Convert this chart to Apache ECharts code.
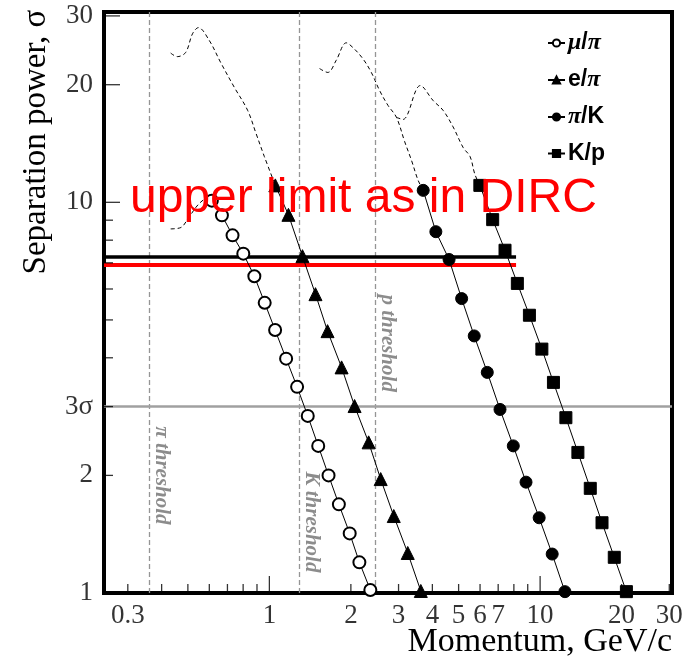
<!DOCTYPE html>
<html>
<head>
<meta charset="utf-8">
<script src="https://cdn.jsdelivr.net/npm/echarts@6/dist/echarts.min.js"></script>
<style>html,body{margin:0;padding:0;background:#fff;}#c{width:691px;height:660px;}</style>
</head>
<body>
<div id="c"></div>
<script>
// ---- data ----
const seriesNames = ['μ/π', 'e/π', 'π/K', 'K/p'];

const muPiX = [0.613, 0.668, 0.731, 0.801, 0.880, 0.961, 1.05, 1.153, 1.266, 1.386, 1.515, 1.654, 1.806, 1.98, 2.15, 2.36];
const muPiY = [10.1, 9.26, 8.23, 7.39, 6.47, 5.53, 4.71, 3.98, 3.37, 2.84, 2.38, 2.0, 1.686, 1.421, 1.198, 1.018];

const ePiX = [1.052, 1.176, 1.325, 1.48, 1.64, 1.848, 2.064, 2.326, 2.577, 2.88, 3.244, 3.625];
const ePiY = [11.05, 9.29, 7.28, 5.82, 4.68, 3.78, 3.01, 2.43, 1.957, 1.574, 1.266, 1.012];

const piKX = [3.70, 4.12, 4.61, 5.13, 5.71, 6.38, 7.11, 7.96, 8.87, 9.92, 11.08, 12.35];
const piKY = [10.73, 8.41, 7.14, 5.67, 4.55, 3.67, 2.95, 2.38, 1.922, 1.558, 1.258, 1.008];

const kpX = [5.99, 6.68, 7.42, 8.24, 9.13, 10.15, 11.2, 12.45, 13.79, 15.32, 16.93, 18.79, 20.83];
const kpY = [11.05, 9.03, 7.54, 6.20, 5.14, 4.21, 3.46, 2.81, 2.29, 1.853, 1.513, 1.234, 1.008];

// dashed extrapolation curves
const curveAX = [0.432, 0.457, 0.491, 0.520, 0.547, 0.599, 0.663, 0.742, 0.831, 0.893, 0.958, 1.052];
const curveAY = [24.1, 23.6, 24.2, 27.0, 28.0, 26.0, 22.7, 19.7, 17.2, 15.0, 13.1, 11.05];
const curveBX = [0.432, 0.471, 0.505, 0.550, 0.599, 0.613];
const curveBY = [8.55, 8.62, 9.17, 9.92, 10.3, 10.1];
const curveCX = [1.532, 1.644, 1.766, 1.923, 2.035, 2.216, 2.38, 2.556, 2.743, 2.947, 3.16, 3.35, 3.54, 3.70];
const curveCY = [22.0, 21.5, 23.1, 25.6, 24.9, 23.3, 21.5, 19.3, 17.7, 16.5, 14.3, 12.8, 11.4, 10.73];
const curveDX = [2.947, 3.115, 3.61, 4.03, 4.38, 4.77, 5.20, 5.51, 5.74, 5.99];
const curveDY = [16.5, 16.3, 19.9, 18.2, 17.2, 15.6, 13.8, 13.1, 11.8, 11.05];

// reference lines
const thresholdX = [0.362, 1.29, 2.47];
const thresholdNames = ['π threshold', 'K threshold', 'p threshold'];
const thresholdLabelY = [2.0, 1.52, 4.36];
const sigma3 = 3;
const dircBlackY = 7.25;
const dircRedY = 6.93;
const dircEndX = 8.15;
const annotation = 'upper limit as in DIRC';

// axes
const xMin = 0.245, xMax = 30.7, yMin = 1, yMax = 30.7;
const xTickLabels = [0.3, 1, 2, 3, 4, 5, 6, 7, 10, 20, 30];
const xMajorTicks = [1, 10];
const xMinorTicks = [0.3, 0.4, 0.5, 0.6, 0.7, 0.8, 0.9, 2, 3, 4, 5, 6, 7, 8, 9, 20, 30];
const yTickValues = [1, 2, 3, 10, 20, 30];
const yTickLabels = ['1', '2', '3σ', '10', '20', '30'];
const yMajorTicks = [10, 20, 30];
const yMinorTicks = [2, 3, 4, 5, 6, 7, 8, 9];
const xAxisName = 'Momentum, GeV/c';
const yAxisName = 'Separation power, σ';

// ---- chart ----
const serif = 'Liberation Serif';
const zip = (xs, ys) => xs.map((x, i) => [x, ys[i]]);

function markerSeries(name, xs, ys, symbol, size) {
  return {
    name, type: 'line', data: zip(xs, ys), symbol, symbolSize: size,
    showAllSymbol: true,
    lineStyle: { color: '#000', width: 1 },
    itemStyle: { color: '#000', borderColor: '#000', borderWidth: 1 },
    emphasis: { disabled: true }, z: 5, clip: false
  };
}
function dashed(xs, ys) {
  return {
    type: 'line', data: zip(xs, ys), symbol: 'none', smooth: 0.35,
    lineStyle: { color: '#000', width: 1, type: [4, 3] }, z: 4, silent: true
  };
}
function tickSeries(data, size, offset) {
  return {
    type: 'scatter', data, symbol: 'rect', symbolSize: size, symbolOffset: offset,
    itemStyle: { color: '#000' }, silent: true, clip: false, z: 6
  };
}
const frameAxis = { show: true, lineStyle: { color: '#000', width: 4 } };

const option = {
  animation: false,
  backgroundColor: '#fff',
  grid: { left: 104, right: 19, top: 12, bottom: 67, show: true, borderColor: '#000', borderWidth: 4, backgroundColor: 'transparent' },
  xAxis: [
    { type: 'log', logBase: 10, min: xMin, max: xMax, axisLine: frameAxis, axisTick: { show: false }, axisLabel: { show: false }, splitLine: { show: false } },
    { type: 'log', logBase: 10, min: xMin, max: xMax, position: 'top', axisLine: frameAxis, axisTick: { show: false }, axisLabel: { show: false }, splitLine: { show: false } }
  ],
  yAxis: [
    { type: 'log', logBase: 10, min: yMin, max: yMax, axisLine: frameAxis, axisTick: { show: false }, axisLabel: { show: false }, splitLine: { show: false } },
    { type: 'log', logBase: 10, min: yMin, max: yMax, position: 'right', axisLine: frameAxis, axisTick: { show: false }, axisLabel: { show: false }, splitLine: { show: false } }
  ],
  legend: {
    data: seriesNames, orient: 'vertical', left: 542, top: 26,
    itemWidth: 17, itemHeight: 9, itemGap: 13,
    textStyle: { fontFamily: 'Liberation Sans', fontWeight: 'bold', fontSize: 23, color: '#000', padding: [0, 0, 0, -2],
      rich: { g: { fontFamily: serif, fontStyle: 'italic', fontWeight: 'bold', fontSize: 24, color: '#000' } } },
    formatter: n => n.replace(/([μπ])/g, '{g|$1}'),
    selectedMode: false
  },
  graphic: [
    { type: 'text', left: 130, top: 175, z: 100, style: { text: annotation, fill: '#ff0000', font: '48px "Liberation Sans"' } },
    { type: 'text', x: 36, y: 142, rotation: Math.PI / 2, style: { text: yAxisName, fill: '#000', font: '33px "Liberation Serif"', align: 'center', verticalAlign: 'middle' } },
    { type: 'text', x: 672, y: 642, style: { text: xAxisName, fill: '#000', font: '34px "Liberation Serif"', align: 'right', verticalAlign: 'middle' } }
  ],
  series: [
    dashed(curveAX, curveAY), dashed(curveBX, curveBY), dashed(curveCX, curveCY), dashed(curveDX, curveDY),
    markerSeries(seriesNames[0], muPiX, muPiY, 'emptyCircle', 12),
    markerSeries(seriesNames[1], ePiX, ePiY, 'triangle', 13),
    markerSeries(seriesNames[2], piKX, piKY, 'circle', 12),
    markerSeries(seriesNames[3], kpX, kpY, 'rect', 12),
    // reference lines
    {
      type: 'scatter', data: [[xMin, yMin]], symbolSize: 0, silent: true, z: 7,
      markLine: {
        silent: true, symbol: ['none', 'none'], label: { show: false }, animation: false,
        data: [
          ...thresholdX.map(v => ({ xAxis: v, lineStyle: { color: '#959595', width: 1.3, type: [5, 3] } })),
          { yAxis: sigma3, lineStyle: { color: '#a0a0a0', width: 2.5, type: 'solid' } },
          [{ coord: [xMin, dircBlackY], lineStyle: { color: '#000', width: 3.5, type: 'solid' } }, { coord: [dircEndX, dircBlackY] }],
          [{ coord: [xMin, dircRedY], lineStyle: { color: '#ff0000', width: 4, type: 'solid' } }, { coord: [dircEndX, dircRedY] }]
        ]
      }
    },
    // threshold labels
    {
      type: 'scatter', data: zip(thresholdX, thresholdLabelY), symbolSize: 0, silent: true, clip: false, z: 8,
      label: { show: true, position: 'inside', rotate: -90, offset: [0, -12],
        formatter: p => thresholdNames[p.dataIndex],
        fontFamily: serif, fontStyle: 'italic', fontWeight: 'bold', fontSize: 21, color: '#6f6f6f' }
    },
    // axis ticks
    tickSeries(xMajorTicks.map(v => [v, yMin]), [1.3, 17], [0, -8.5]),
    tickSeries(xMinorTicks.map(v => [v, yMin]), [1.3, 9], [0, -4.5]),
    tickSeries(yMajorTicks.map(v => [xMin, v]), [16, 1.3], [8, 0]),
    tickSeries(yMinorTicks.map(v => [xMin, v]), [9, 1.3], [4.5, 0]),
    // tick labels
    {
      type: 'scatter', data: xTickLabels.map(v => [v, yMin]), symbolSize: 0, silent: true, clip: false,
      label: { show: true, position: 'bottom', distance: 9, formatter: p => String(xTickLabels[p.dataIndex]),
        fontFamily: serif, fontSize: 27, color: '#000' }
    },
    {
      type: 'scatter', data: yTickValues.map(v => [xMin, v]), symbolSize: 0, silent: true, clip: false,
      label: { show: true, position: 'left', distance: 11, formatter: p => yTickLabels[p.dataIndex],
        fontFamily: serif, fontSize: 27, color: '#000' }
    }
  ]
};

const chart = echarts.init(document.getElementById('c'), null, { renderer: 'canvas' });
chart.setOption(option);
</script>
</body>
</html>
